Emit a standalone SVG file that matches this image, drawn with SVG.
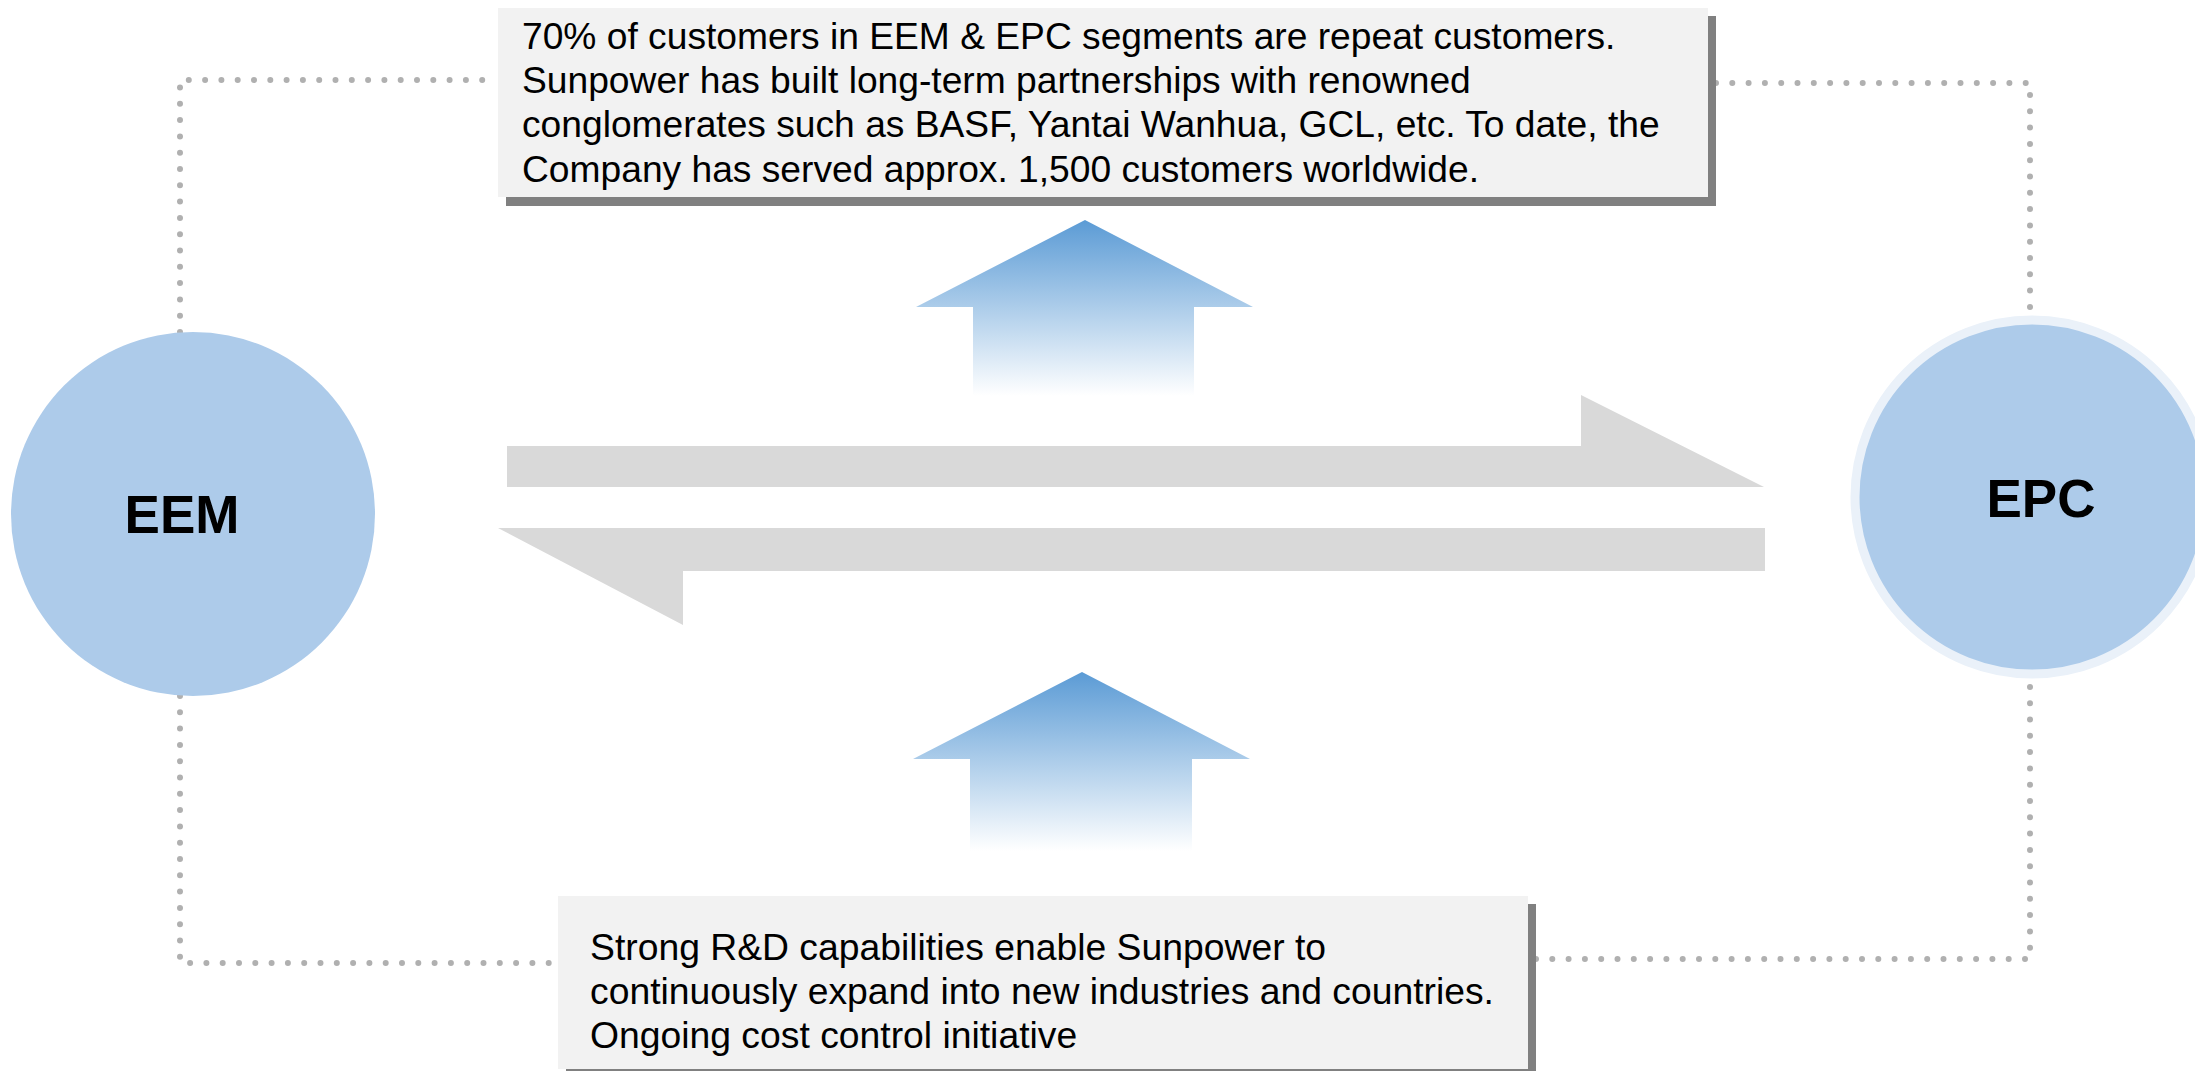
<svg xmlns="http://www.w3.org/2000/svg" width="2195" height="1071" viewBox="0 0 2195 1071">
  <style>
    .dot { fill: none; stroke: #b0b0b0; stroke-width: 6; stroke-dasharray: 0 16.3; stroke-linecap: round; stroke-linejoin: round; }
    .box { fill: #f2f2f2; }
    .shadow { fill: #808080; }
    .txt { font-family: "Liberation Sans", Arial, sans-serif; font-size: 37.2px; fill: #000; }
    .txt2 { font-family: "Liberation Sans", Arial, sans-serif; font-size: 37.3px; fill: #000; }
    .lbl { font-family: "Liberation Sans", Arial, sans-serif; font-size: 53px; font-weight: bold; fill: #000; text-anchor: middle; }
    .flow { fill: #d9d9d9; }
    .up { fill: url(#blueFade); }
  </style>
  <defs>
    <linearGradient id="blueFade" x1="0" y1="0" x2="0" y2="1">
      <stop offset="0" stop-color="#5b9bd5"/>
      <stop offset="1" stop-color="#ffffff"/>
    </linearGradient>
  </defs>
  <rect width="2195" height="1071" fill="#ffffff"/>

  <g id="connectors">
    <path class="dot" d="M180,332 V80 H498"/>
    <path class="dot" d="M1716,83 H2030 V315"/>
    <path class="dot" d="M180,696 V963 H558"/>
    <path class="dot" d="M1536,959 H2030 V679"/>
    <polygon class="flow" points="507,446 1581,446 1581,395 1764,487 507,487"/>
    <polygon class="flow" points="498,528 1765,528 1765,571 683,571 683,625"/>
    <polygon class="up" points="1085,220 1253,307 1194,307 1194,396 973,396 973,307 916,307"/>
    <polygon class="up" points="1082,672 1250,759 1192,759 1192,851 970,851 970,759 913,759"/>
  </g>

  <g id="node-eem">
    <circle cx="193" cy="514" r="182" fill="#adcbea"/>
    <text class="lbl" x="182" y="533">EEM</text>
  </g>

  <g id="node-epc">
    <circle cx="2032" cy="497" r="177" fill="#adcbea" stroke="#eaf1f9" stroke-width="9"/>
    <text class="lbl" x="2041" y="517">EPC</text>
  </g>

  <g id="note-top">
    <rect class="shadow" x="506" y="16" width="1210" height="190"/>
    <rect class="box" x="498" y="8" width="1210" height="189"/>
    <text class="txt">
      <tspan x="522" y="49">70% of customers in EEM &amp; EPC segments are repeat customers.</tspan>
      <tspan x="522" y="93">Sunpower has built long-term partnerships with renowned</tspan>
      <tspan x="522" y="137">conglomerates such as BASF, Yantai Wanhua, GCL, etc. To date, the</tspan>
      <tspan x="522" y="182">Company has served approx. 1,500 customers worldwide.</tspan>
    </text>
  </g>

  <g id="note-bottom">
    <rect class="shadow" x="566" y="904" width="970" height="173"/>
    <rect class="box" x="558" y="896" width="970" height="173"/>
    <text class="txt2">
      <tspan x="590" y="960">Strong R&amp;D capabilities enable Sunpower to</tspan>
      <tspan x="590" y="1004">continuously expand into new industries and countries.</tspan>
      <tspan x="590" y="1048">Ongoing cost control initiative</tspan>
    </text>
  </g>
</svg>
